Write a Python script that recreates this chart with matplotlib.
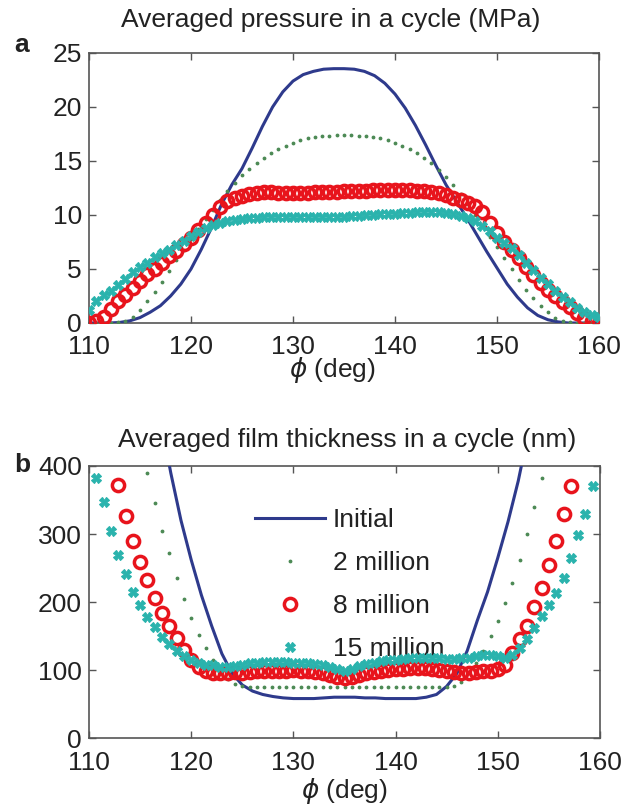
import numpy as np
import matplotlib
matplotlib.use("Agg")
import matplotlib.pyplot as plt

plt.rcParams['font.family'] = ['Liberation Sans', 'DejaVu Sans']
plt.rcParams['mathtext.fontset'] = 'dejavusans'

# ---------------- data ----------------
phi_line = np.arange(110, 161, 1.0)          # grid for the "Initial" curve
phi_mk = np.linspace(110, 160, 71)           # grid for the marker series

labels = ["Initial", "2 million", "8 million", "15 million"]

# (a) averaged pressure (MPa)
p_initial = [0, 0, 0, 0.05, 0.2, 0.5, 1.0, 1.6, 2.5, 3.6, 5.0, 6.8, 8.8, 11.0, 12.8,
             14.3, 16.2, 18.2, 20.0, 21.4, 22.4, 23.0, 23.3, 23.5, 23.55, 23.55, 23.5,
             23.3, 22.9, 22.2, 21.2, 19.9, 18.3, 16.5, 14.6, 12.8, 11.3, 9.8, 8.2, 6.6,
             5.1, 3.6, 2.4, 1.4, 0.7, 0.3, 0.1, 0, 0, 0, 0]
p_2m = [0, 0, 0, 0, 0.05, 0.2, 0.6, 1.2, 2.0, 2.9, 3.8, 4.8, 5.8, 6.8, 7.8, 8.7, 9.6,
        10.5, 11.4, 12.2, 13.0, 13.7, 14.3, 14.8, 15.3, 15.7, 16.1, 16.4, 16.7, 16.9,
        17.1, 17.2, 17.3, 17.35, 17.4, 17.4, 17.4, 17.35, 17.3, 17.2, 17.1, 16.9, 16.7,
        16.4, 16.1, 15.7, 15.3, 14.8, 14.2, 13.5, 12.8, 11.9, 11.0, 10.0, 9.0, 8.0, 7.0,
        6.0, 5.0, 4.0, 3.1, 2.3, 1.6, 1.0, 0.5, 0.2, 0.05, 0, 0, 0, 0]
p_8m = [0.0, 0.15, 0.6, 1.3, 2.0, 2.6, 3.2, 3.9, 4.5, 5.0, 5.6, 6.2, 6.7, 7.3, 7.9, 8.6,
        9.3, 10.0, 10.7, 11.3, 11.6, 11.8, 11.95, 12.05, 12.1, 12.1, 12.05, 12.0, 12.0,
        12.0, 12.05, 12.1, 12.1, 12.15, 12.15, 12.2, 12.2, 12.2, 12.25, 12.3, 12.3, 12.3,
        12.3, 12.3, 12.3, 12.25, 12.2, 12.1, 12.0, 11.85, 11.6, 11.35, 11.1, 10.8, 10.3,
        9.3, 8.3, 7.5, 6.8, 6.0, 5.2, 4.4, 3.7, 3.1, 2.5, 1.95, 1.45, 0.95, 0.5, 0.2, 0.0]
p_15m = [1.2, 2.0, 2.6, 3.0, 3.5, 4.1, 4.7, 5.2, 5.6, 6.1, 6.5, 6.8, 7.2, 7.6, 8.1, 8.4,
         8.8, 9.1, 9.3, 9.45, 9.55, 9.6, 9.7, 9.75, 9.8, 9.8, 9.8, 9.85, 9.85, 9.85, 9.85,
         9.85, 9.85, 9.85, 9.85, 9.85, 9.9, 9.95, 10.0, 10.0, 10.05, 10.1, 10.1, 10.15,
         10.2, 10.25, 10.3, 10.3, 10.25, 10.2, 10.1, 9.95, 9.7, 9.4, 9.0, 8.5, 7.9, 7.4,
         6.9, 6.3, 5.6, 4.9, 4.2, 3.6, 3.0, 2.4, 1.9, 1.4, 1.0, 0.75, 0.6]

# (b) averaged film thickness (nm)
h_initial = [1500, 1300, 1100, 950, 800, 680, 560, 470, 390, 320, 262, 210, 165, 124,
             95, 78, 69, 64, 61, 59, 58, 58, 58, 59, 60, 60, 60, 59, 59, 58, 58, 58, 58,
             60, 64, 76, 95, 128, 173, 215, 265, 318, 378, 450, 540, 640, 750, 870, 1000,
             1150, 1300]
h_2m = [900, 820, 750, 680, 610, 545, 485, 430, 390, 345, 305, 272, 236, 204, 176, 152,
        132, 114, 99, 87, 79, 76, 75, 75, 75, 75, 75, 75, 75, 75, 75, 75, 75, 75, 75, 75,
        75, 75, 75, 75, 75, 75, 75, 75, 75, 75, 75, 75, 75, 75, 77, 83, 95, 110, 128,
        150, 172, 198, 228, 262, 300, 340, 382, 430, 480, 540, 600, 670, 740, 820, 900]
h_8m = [620, 545, 480, 425, 372, 327, 289, 259, 233, 206, 184, 165, 147, 130, 115, 104,
        98, 96, 95, 96, 97, 96, 97, 98, 99, 99, 98, 99, 100, 99, 98, 97, 95, 92, 89, 88,
        89, 92, 95, 97, 99, 100, 101, 102, 103, 103, 103, 102, 100, 98, 97, 96, 96, 97,
        98, 99, 101, 108, 125, 145, 165, 193, 220, 255, 290, 330, 370, 425, 480, 545, 620]
h_15m = [420, 382, 347, 304, 269, 241, 215, 196, 178, 163, 149, 138, 128, 120, 114, 110,
         108, 107, 105, 105, 106, 108, 110, 111, 112, 112, 112, 112, 111, 111, 110, 109,
         107, 104, 101, 99, 102, 106, 109, 111, 113, 114, 115, 116, 117, 118, 118, 118,
         117, 116, 116, 117, 118, 120, 122, 122, 120, 118, 122, 133, 146, 162, 180, 196,
         213, 236, 265, 298, 330, 370, 415]

x_ticks = [110, 120, 130, 140, 150, 160]
p_ticks = [0, 5, 10, 15, 20, 25]
h_ticks = [0, 100, 200, 300, 400]

# ---------------- style ----------------
C_BLUE = '#2e3a8c'
C_GREEN = '#4d8a55'
C_RED = '#e8141c'
C_CYAN = '#2ab3ad'
FS = 19
SPINE = '#555555'
TXT = '#222222'

fig = plt.figure(figsize=(6.24, 8.07), dpi=100)
ax1 = fig.add_axes([89/624, 1-323/807, 510/624, 270/807])
ax2 = fig.add_axes([89/624, 1-738/807, 511/624, 272/807])


def draw(ax, y_init, y2, y8, y15):
    ax.plot(phi_line, y_init, color=C_BLUE, lw=2.2, label=labels[0], zorder=3)
    ax.plot(phi_mk, y2, ls='none', marker='.', ms=3.5, color=C_GREEN,
            label=labels[1], zorder=4)
    ax.plot(phi_mk, y8, ls='none', marker='o', ms=8.8, mfc='none', mec=C_RED,
            mew=2.5, label=labels[2], zorder=5)
    ax.plot(phi_mk, y15, ls='none', marker='X', ms=6.8, color=C_CYAN,
            mec=C_CYAN, mew=0.8, label=labels[3], zorder=6)


def style(ax):
    ax.set_xlim(110, 160)
    ax.set_xticks(x_ticks)
    ax.tick_params(direction='in', length=5, width=1, colors=SPINE,
                   labelcolor=TXT, labelsize=FS, top=True, right=True, pad=5)
    ax.tick_params(axis='x', pad=9)
    for s in ax.spines.values():
        s.set_color(SPINE)
        s.set_linewidth(1.2)


draw(ax1, p_initial, p_2m, p_8m, p_15m)
style(ax1)
ax1.set_ylim(0, 25)
ax1.set_yticks(p_ticks)
ax1.set_title('Averaged pressure in a cycle (MPa)', fontsize=FS, x=0.473, pad=19,
              color=TXT)
ax1.set_xlabel(r'$\phi$ (deg)', fontsize=FS, color=TXT)
ax1.xaxis.set_label_coords(0.478, -0.12)

draw(ax2, h_initial, h_2m, h_8m, h_15m)
style(ax2)
ax2.set_ylim(0, 400)
ax2.set_yticks(h_ticks)
ax2.set_title('Averaged film thickness in a cycle (nm)', fontsize=FS, x=0.505, pad=14,
              color=TXT)
ax2.set_xlabel(r'$\phi$ (deg)', fontsize=FS, color=TXT)
ax2.xaxis.set_label_coords(0.5, -0.14)

leg = ax2.legend(loc='upper left', bbox_to_anchor=(0.325, 0.845), frameon=False,
                 fontsize=FS, borderpad=0, borderaxespad=0, handlelength=2.65,
                 handletextpad=0.3, labelspacing=0.72, markerscale=1.0)
for t in leg.get_texts():
    t.set_color(TXT)

fig.text(14/624, 1-45/807, 'a', fontsize=FS, fontweight='bold', va='center',
         ha='left', color=TXT)
fig.text(14/624, 1-465/807, 'b', fontsize=FS, fontweight='bold', va='center',
         ha='left', color=TXT)

fig.savefig('out.png', dpi=100)
